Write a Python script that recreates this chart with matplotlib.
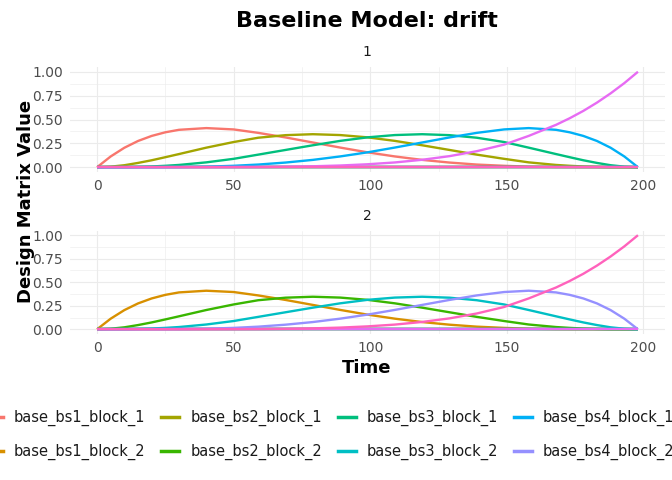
import matplotlib
matplotlib.use("Agg")
import matplotlib.pyplot as plt
from matplotlib.lines import Line2D

time = [0, 5, 10, 15, 20, 25, 30, 40, 50, 59, 69, 79, 89, 99, 109, 119, 129,
        139, 149, 158, 168, 173, 178, 183, 188, 193, 198]

# drift basis columns (same shape in each block)
bs1 = [0, 0.113, 0.204, 0.275, 0.328, 0.366, 0.392, 0.410, 0.396, 0.360, 0.312,
       0.259, 0.206, 0.156, 0.113, 0.077, 0.049, 0.028, 0.015, 0.006, 0.002,
       0.001, 0.0005, 0.0002, 0, 0, 0]
bs2 = [0, 0.006, 0.021, 0.045, 0.073, 0.105, 0.138, 0.205, 0.264, 0.309, 0.336,
       0.346, 0.337, 0.313, 0.276, 0.230, 0.181, 0.132, 0.088, 0.051, 0.024,
       0.015, 0.008, 0.004, 0.001, 0.0002, 0]
bs3 = [0, 0.0002, 0.001, 0.004, 0.008, 0.015, 0.024, 0.051, 0.088, 0.132, 0.181,
       0.230, 0.276, 0.313, 0.337, 0.346, 0.336, 0.309, 0.264, 0.205, 0.138,
       0.105, 0.073, 0.045, 0.021, 0.006, 0]
bs4 = [0, 0, 0, 0.0002, 0.0005, 0.001, 0.002, 0.006, 0.015, 0.028, 0.049,
       0.077, 0.113, 0.156, 0.206, 0.259, 0.312, 0.360, 0.396, 0.410, 0.392,
       0.366, 0.328, 0.275, 0.204, 0.113, 0]
bs5 = [0, 0, 0, 0, 0, 0, 0.0001, 0.0003, 0.001, 0.002, 0.005,
       0.010, 0.018, 0.031, 0.050, 0.078, 0.116, 0.168, 0.237, 0.328, 0.444,
       0.513, 0.590, 0.677, 0.774, 0.881, 1.0]
zeros = [0.0] * len(time)

basis = [bs1, bs2, bs3, bs4, bs5]
blocks = [1, 2]
names = ["base_bs%d_block_%d" % (b, k) for b in range(1, 6) for k in blocks]
colors = ["#F8766D", "#D89000", "#A3A500", "#39B600", "#00BF7D",
          "#00BFC4", "#00B0F6", "#9590FF", "#E76BF3", "#FF62BC"]

fig = plt.figure(figsize=(6.72, 4.8), dpi=100)
W, H = 672.0, 480.0

panels = [(67, 172), (230.5, 334)]  # top / bottom pixel rows of each panel
for p, (top, bot) in enumerate(panels):
    ax = fig.add_axes([70 / W, 1 - bot / H, 595 / W, (bot - top) / H])
    block = blocks[p]
    for i, name in enumerate(names):
        b = i // 2
        k = blocks[i % 2]
        y = basis[b] if k == block else zeros
        ax.plot(time, y, color=colors[i], lw=1.7, solid_capstyle="butt",
                solid_joinstyle="round", zorder=3)
    ax.set_xlim(-9.9, 207.9)
    ax.set_ylim(-0.05, 1.05)
    ax.set_xticks([0, 50, 100, 150, 200])
    ax.set_yticks([0, 0.25, 0.5, 0.75, 1.0])
    ax.set_yticklabels(["0.00", "0.25", "0.50", "0.75", "1.00"])
    ax.set_xticks([25, 75, 125, 175], minor=True)
    ax.set_yticks([0.125, 0.375, 0.625, 0.875], minor=True)
    ax.grid(which="major", color="#EBEBEB", lw=0.8, zorder=0)
    ax.grid(which="minor", color="#EBEBEB", lw=0.4, zorder=0)
    ax.set_axisbelow(True)
    for s in ax.spines.values():
        s.set_visible(False)
    ax.tick_params(which="both", length=0, labelsize=10, labelcolor="#4D4D4D", pad=5)
    fig.text(367 / W, 1 - (top - 15) / H, str(block), ha="center", va="center",
             fontsize=10, color="#1A1A1A")

fig.text(367 / W, 1 - 21 / H, "Baseline Model: drift", ha="center", va="center",
         fontsize=16, fontweight="bold")
fig.text(26 / W, 1 - 201 / H, "Design Matrix Value", ha="center", va="center",
         rotation=90, fontsize=13, fontweight="bold")
fig.text(367 / W, 1 - 368 / H, "Time", ha="center", va="center",
         fontsize=13, fontweight="bold")

# legend is wider than the figure, as in the original (last column off-canvas)
handles = [Line2D([], [], color=c, lw=2.5) for c in colors]
fig.legend(handles, names, loc="upper left", bbox_to_anchor=(-15 / W, 1 - 410 / H),
           ncol=5, frameon=False, fontsize=10.5, borderpad=0, borderaxespad=0,
           handlelength=1.23, handletextpad=0.75, columnspacing=1.08,
           labelspacing=1.2, labelcolor="#1A1A1A")

fig.savefig("out.png", dpi=100)
